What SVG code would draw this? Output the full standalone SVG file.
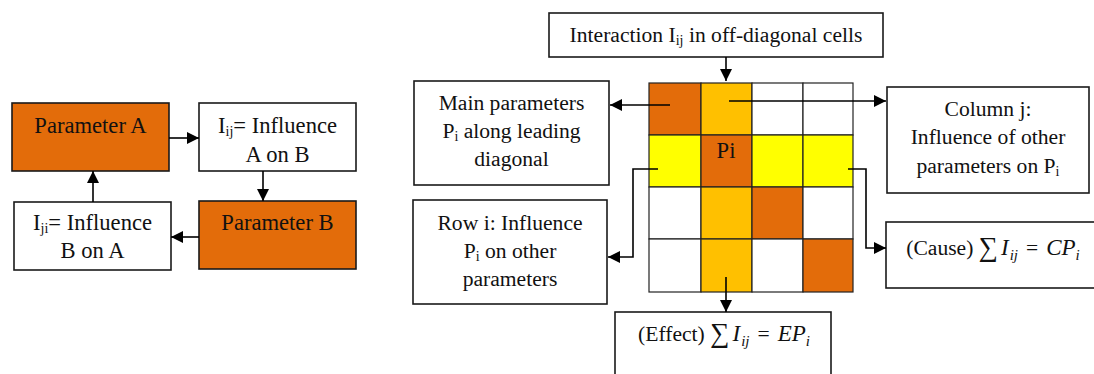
<svg xmlns="http://www.w3.org/2000/svg" width="1094" height="374" viewBox="0 0 1094 374">
<style>
.box{fill:#fff;stroke:#1a1a1a;stroke-width:1.6}
.obox{fill:#E36C0A;stroke:#1a1a1a;stroke-width:1.6}
.cell{stroke:#222;stroke-width:1.2}
.t{font-family:"Liberation Serif","Times New Roman",serif;font-size:21.6px;fill:#111;text-anchor:middle}
.l{font-size:22.6px}
.m{font-style:italic;font-size:23px}
.ms{font-style:italic;font-size:15px}
.sub{font-size:14px}
.sig{font-size:27px}
.con{fill:none;stroke:#000;stroke-width:1.6}
</style>
<defs>
<marker id="ah" markerUnits="userSpaceOnUse" markerWidth="14" markerHeight="12" refX="12" refY="6" orient="auto">
<path d="M0,0 L12,6 L0,12 Z" fill="#000"/>
</marker>
</defs>
<rect width="1094" height="374" fill="#fff"/>

<g id="paramA"><rect class="obox" x="12" y="103" width="157" height="68"/><text class="t l" x="90.5" y="133">Parameter A</text></g>
<g id="iij"><rect class="box" x="199" y="103" width="157" height="68"/><text class="t l" x="277.5" y="133">I<tspan class="sub" dy="3">ij</tspan><tspan dy="-3">= Influence</tspan></text><text class="t l" x="277.5" y="162">A on B</text></g>
<g id="paramB"><rect class="obox" x="199" y="201" width="157" height="68"/><text class="t l" x="277.5" y="230">Parameter B</text></g>
<g id="iji"><rect class="box" x="14" y="202" width="157" height="68"/><text class="t l" x="92.5" y="230">I<tspan class="sub" dy="3">ji</tspan><tspan dy="-3">= Influence</tspan></text><text class="t l" x="92.5" y="258">B on A</text></g>

<g id="interaction"><rect class="box" x="549" y="13" width="334" height="44"/><text class="t" x="716" y="42">Interaction I<tspan class="sub" dy="3">ij</tspan><tspan dy="-3"> in off-diagonal cells</tspan></text></g>

<g id="matrix">
<rect class="cell" x="649" y="83" width="52" height="52" fill="#E36C0A"/>
<rect class="cell" x="701" y="83" width="51" height="52" fill="#FFC000"/>
<rect class="cell" x="752" y="83" width="51" height="52" fill="#fff"/>
<rect class="cell" x="803" y="83" width="50" height="52" fill="#fff"/>
<rect class="cell" x="649" y="135" width="52" height="52" fill="#FFFF00"/>
<rect class="cell" x="701" y="135" width="51" height="52" fill="#E36C0A"/>
<rect class="cell" x="752" y="135" width="51" height="52" fill="#FFFF00"/>
<rect class="cell" x="803" y="135" width="50" height="52" fill="#FFFF00"/>
<rect class="cell" x="649" y="187" width="52" height="52" fill="#fff"/>
<rect class="cell" x="701" y="187" width="51" height="52" fill="#FFC000"/>
<rect class="cell" x="752" y="187" width="51" height="52" fill="#E36C0A"/>
<rect class="cell" x="803" y="187" width="50" height="52" fill="#fff"/>
<rect class="cell" x="649" y="239" width="52" height="53" fill="#fff"/>
<rect class="cell" x="701" y="239" width="51" height="53" fill="#FFC000"/>
<rect class="cell" x="752" y="239" width="51" height="53" fill="#fff"/>
<rect class="cell" x="803" y="239" width="50" height="53" fill="#E36C0A"/>
<text class="t l" x="726" y="158">Pi</text>
</g>

<g id="mainparams"><rect class="box" x="414" y="81" width="195" height="104"/><text class="t" x="511.5" y="110">Main parameters</text><text class="t" x="511.5" y="138">P<tspan class="sub" dy="3">i</tspan><tspan dy="-3"> along leading</tspan></text><text class="t" x="511.5" y="166">diagonal</text></g>
<g id="rowi"><rect class="box" x="413" y="200" width="194" height="104"/><text class="t" x="510" y="230">Row i: Influence</text><text class="t" x="510" y="258">P<tspan class="sub" dy="3">i</tspan><tspan dy="-3"> on other</tspan></text><text class="t" x="510" y="286">parameters</text></g>
<g id="columnj"><rect class="box" x="887" y="87" width="202" height="106"/><text class="t" x="988" y="116">Column j:</text><text class="t" x="988" y="144">Influence of other</text><text class="t" x="988" y="173">parameters on P<tspan class="sub" dy="3">i</tspan></text></g>
<g id="cause"><rect class="box" x="886" y="222" width="212" height="66"/><text class="t" x="993" y="255">(Cause) <tspan class="sig" dy="1">∑</tspan><tspan class="m" dx="3" dy="-1">I</tspan><tspan class="ms" dy="5" dx="1">ij</tspan><tspan dy="-5" dx="8">=</tspan><tspan class="m" dx="8">CP</tspan><tspan class="ms" dy="5">i</tspan></text></g>
<g id="effect"><rect class="box" x="615" y="312" width="216" height="70"/><text class="t" x="724" y="341">(Effect) <tspan class="sig" dy="1">∑</tspan><tspan class="m" dx="3" dy="-1">I</tspan><tspan class="ms" dy="5" dx="1">ij</tspan><tspan dy="-5" dx="8">=</tspan><tspan class="m" dx="8">EP</tspan><tspan class="ms" dy="5">i</tspan></text></g>

<g id="connectors">
<line class="con" x1="169" y1="138" x2="199" y2="138" marker-end="url(#ah)"/>
<line class="con" x1="263" y1="171" x2="263" y2="201" marker-end="url(#ah)"/>
<line class="con" x1="199" y1="237" x2="171" y2="237" marker-end="url(#ah)"/>
<line class="con" x1="93" y1="202" x2="93" y2="171" marker-end="url(#ah)"/>
<line class="con" x1="726" y1="57" x2="726" y2="81" marker-end="url(#ah)"/>
<line class="con" x1="670" y1="105" x2="610" y2="105" marker-end="url(#ah)"/>
<line class="con" x1="729" y1="101" x2="886" y2="101" marker-end="url(#ah)"/>
<path class="con" d="M848,169 H866 V248 H886" marker-end="url(#ah)"/>
<path class="con" d="M658,169 H633 V257 H608" marker-end="url(#ah)"/>
<line class="con" x1="726" y1="277" x2="726" y2="312" marker-end="url(#ah)"/>
</g>
</svg>
